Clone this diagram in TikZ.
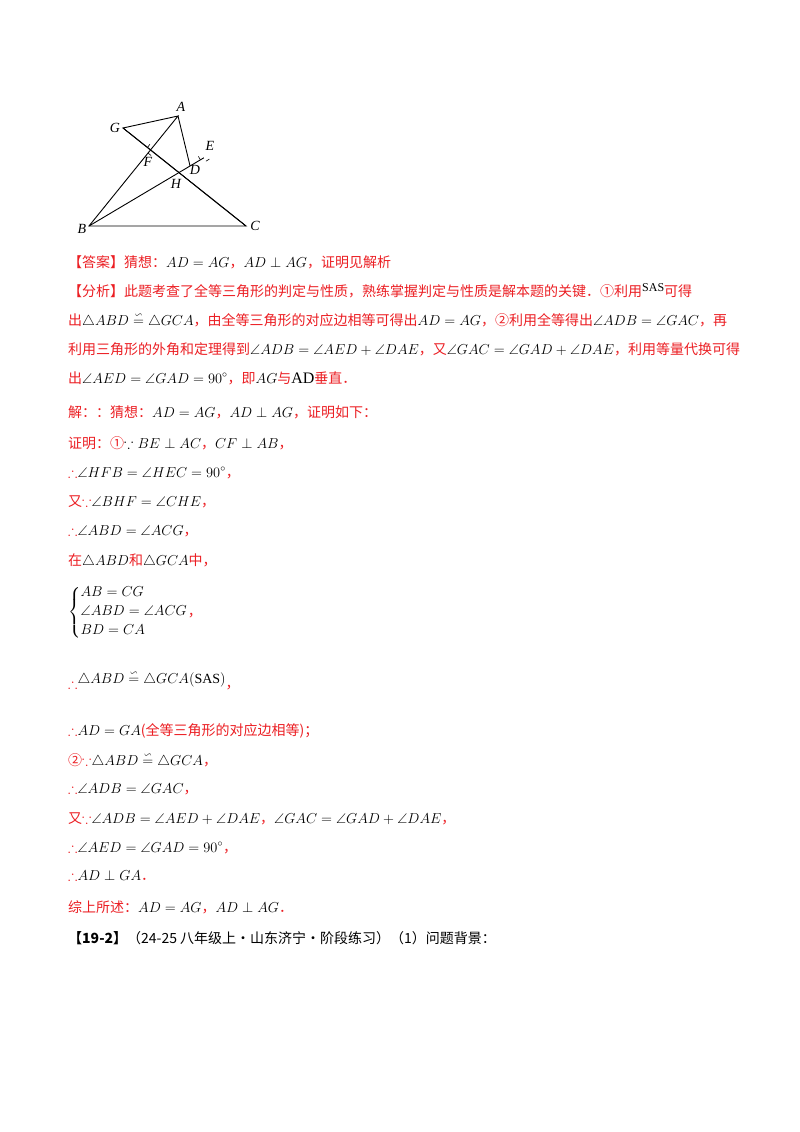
\documentclass[tikz,border=0pt]{standalone}
\usepackage{amsmath,amssymb}
\usepackage{fontspec}
\setmainfont{Liberation Serif}
\newfontfamily\cjk{Noto Sans CJK SC}
\usetikzlibrary{intersections,calc}
\definecolor{rd}{RGB}{235,30,35}
\newcommand{\zh}[1]{{\color{rd}\cjk #1}}
\newcommand{\cg}{\mathrel{\overset{\backsim}{=}}}
\begin{document}
\begin{tikzpicture}[x=1pt,y=-1pt,
  lbl/.style={font=\fontsize{14}{16}\selectfont\itshape,inner sep=1pt},
  ln/.style={anchor=base west,inner sep=0pt,font=\fontsize{14}{17}\selectfont},
  seg/.style={line width=0.9pt}]
\useasboundingbox (0,0) rectangle (800,1132);
% figure
\coordinate (A) at (178,116);
\coordinate (G) at (123,128);
\coordinate (B) at (89,226);
\coordinate (C) at (246,226);
\coordinate (E) at ($(A)!0.38!(C)$);
\coordinate (D) at ($(B)!0.88!(E)$);
\path[name path=ab] (A)--(B);
\path[name path=cg] (C)--(G);
\path[name path=be] (B)--(E);
\path[name intersections={of=ab and cg,by=F}];
\path[name intersections={of=be and cg,by=H}];
\draw[seg] (G)--(A)--(B)--(C)--cycle;
\draw[seg] (A)--(D);
\draw[seg] (B)--(E);
\draw[seg] (C)--(G);
\draw[line width=0.6pt] ($(F)!4pt!(B)$) -- ($($(F)!4pt!(B)$)!4pt!90:(B)$);
\draw[line width=0.6pt] ($(F)!4pt!(G)$) -- ($($(F)!4pt!(G)$)!4pt!-90:(G)$);
\draw[line width=0.6pt] ($(E)!4pt!(B)$) -- ($($(E)!4pt!(B)$)!4pt!-90:(B)$);
\draw[line width=0.6pt] ($(E)!4pt!(C)$) -- ($($(E)!4pt!(C)$)!4pt!90:(C)$);
\node[lbl] (lA) at (181,107) {A};
\node[lbl] (lG) at (115,128) {G};
\node[lbl] (lB) at (82,229) {B};
\node[lbl] (lC) at (255,226) {C};
\node[lbl] (lE) at (210,146) {E};
\node[lbl] (lF) at (148,162) {F};
\node[lbl] (lD) at (195,170) {D};
\node[lbl] (lH) at (176,184) {H};
% text
\node[ln] (t1) at (68,267) {\zh{【答案】猜想：}$AD=AG$\zh{，}$AD\perp AG$\zh{，证明见解析}};
\node[ln] (t2) at (68,296) {\zh{【分析】此题考查了全等三角形的判定与性质，熟练掌握判定与性质是解本题的关键．①利用}\raisebox{5pt}{\fontsize{12}{12}\selectfont SAS}\zh{可得}};
\node[ln] (t3) at (68,325) {\zh{出}$\triangle ABD\cg\triangle GCA$\zh{，由全等三角形的对应边相等可得出}$AD=AG$\zh{，②利用全等得出}$\angle ADB=\angle GAC$\zh{，再}};
\node[ln] (t4) at (68,354) {\zh{利用三角形的外角和定理得到}$\angle ADB=\angle AED+\angle DAE$\zh{，又}$\angle GAC=\angle GAD+\angle DAE$\zh{，利用等量代换可得}};
\node[ln] (t5) at (68,383) {\zh{出}$\angle AED=\angle GAD=90^\circ$\zh{，即}$AG$\zh{与}{\fontsize{16}{16}\selectfont AD}\zh{垂直．}};
\node[ln] (t6) at (68,417) {\zh{解：：猜想：}$AD=AG$\zh{，}$AD\perp AG$\zh{，证明如下：}};
\node[ln] (t7) at (68,448) {\zh{证明：①}$\because BE\perp AC$\zh{，}$CF\perp AB$\zh{，}};
\node[ln] (t8) at (68,477) {\zh{$\therefore$}$\angle HFB=\angle HEC=90^\circ$\zh{，}};
\node[ln] (t9) at (68,506) {\zh{又$\because$}$\angle BHF=\angle CHE$\zh{，}};
\node[ln] (t10) at (68,535) {\zh{$\therefore$}$\angle ABD=\angle ACG$\zh{，}};
\node[ln] (t11) at (68,565) {\zh{在}$\triangle ABD$\zh{和}$\triangle GCA$\zh{中，}};
\node[ln] (t12) at (68,616) {$\left\{\begin{array}{@{}l@{}}AB=CG\\[2pt]\angle ABD=\angle ACG\\[2pt]BD=CA\end{array}\right.$\zh{，}};
\node[ln] (t13) at (68,688) {\zh{$\therefore$}\raisebox{5pt}{$\triangle ABD\cg\triangle GCA(\mathrm{SAS})$}\zh{，}};
\node[ln] (t14) at (68,735) {\zh{$\therefore$}$AD=GA$\zh{(全等三角形的对应边相等)；}};
\node[ln] (t15) at (68,765) {\zh{②$\because$}$\triangle ABD\cg\triangle GCA$\zh{，}};
\node[ln] (t16) at (68,793) {\zh{$\therefore$}$\angle ADB=\angle GAC$\zh{，}};
\node[ln] (t17) at (68,823) {\zh{又$\because$}$\angle ADB=\angle AED+\angle DAE$\zh{，}$\angle GAC=\angle GAD+\angle DAE$\zh{，}};
\node[ln] (t18) at (68,852) {\zh{$\therefore$}$\angle AED=\angle GAD=90^\circ$\zh{，}};
\node[ln] (t19) at (68,880) {\zh{$\therefore$}$AD\perp GA$\zh{．}};
\node[ln] (t20) at (68,912) {\zh{综上所述：}$AD=AG$\zh{，}$AD\perp AG$\zh{．}};
\node[ln] (t21) at (68,943) {\cjk\bfseries 【19-2】{\mdseries（24-25 八年级上·山东济宁·阶段练习）（1）问题背景：}};
\end{tikzpicture}
\end{document}
